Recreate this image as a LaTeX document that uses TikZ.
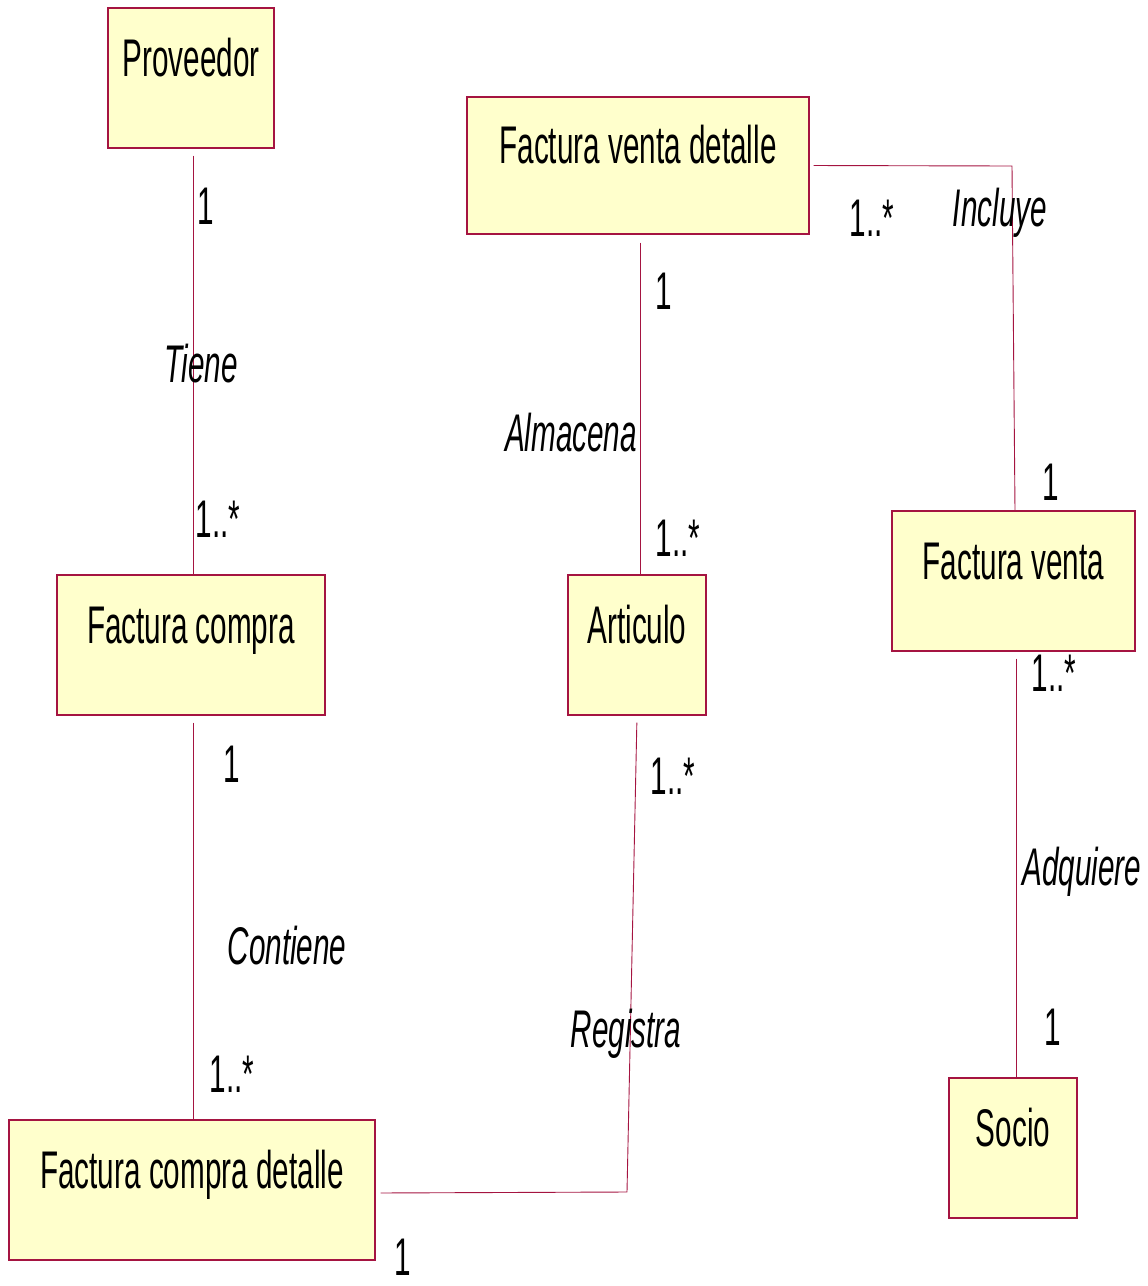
\documentclass[tikz,border=0pt]{standalone}
\usepackage{fontspec}
\setmainfont{Liberation Sans}[FakeStretch=0.56]
\definecolor{umlred}{RGB}{165,20,65}
\definecolor{umlfill}{RGB}{255,255,204}
\begin{document}
\begin{tikzpicture}[x=1pt,y=-1pt,
  cls/.style={draw=umlred, fill=umlfill, line width=1.1pt, minimum height=140pt,
    inner sep=0pt, text height=38pt, text depth=42pt,
    font=\fontsize{53}{60}\selectfont},
  assoc/.style={draw=umlred, line width=0.9pt},
  mult/.style={font=\fontsize{53}{60}\selectfont, inner sep=0pt, text height=38pt, text depth=0pt},
  role/.style={mult, font=\fontsize{53}{60}\selectfont\itshape}]
\useasboundingbox (0,0) rectangle (1148,1286);

% classes
\node[cls, minimum width=166pt] (prov) at (191,78) {Proveedor};
\node[cls, minimum width=342pt, minimum height=137pt] (fvd) at (638,165.5) {Factura venta detalle};
\node[cls, minimum width=268pt] (fc) at (191,645) {Factura compra};
\node[cls, minimum width=138pt] (art) at (637,645) {Articulo};
\node[cls, minimum width=243pt] (fv) at (1013.5,581) {Factura venta};
\node[cls, minimum width=366pt] (fcd) at (192,1190) {Factura compra detalle};
\node[cls, minimum width=128pt] (socio) at (1013,1148) {Socio};

% bends of the routed associations
\coordinate (regbend) at (627,1192);
\coordinate (incbend) at (1012,166);

% associations
\draw[assoc, shorten <=7pt] ([xshift=2pt]prov.south) -- ([xshift=2pt]fc.north);
\draw[assoc, shorten <=7pt] ([xshift=2pt]fc.south) -- ([xshift=1pt]fcd.north);
\draw[assoc, shorten <=8pt] ([xshift=2pt]fvd.south) -- ([xshift=3pt]art.north);
\draw[assoc, shorten <=7pt, shorten >=5pt] (art.south) -- (regbend) -- ([yshift=-3pt]fcd.east);
\draw[assoc, shorten <=4pt] (fvd.east) -- (incbend) -- ([xshift=1.5pt]fv.north);
\draw[assoc, shorten <=7pt] ([xshift=2.5pt]fv.south) -- ([xshift=3pt]socio.north);

% multiplicities
\node[mult] (m1) at (206,205) {1};
\node[mult] (m2) at (218,518) {1..*};
\node[mult] (m3) at (232,763) {1};
\node[mult] (m4) at (232,1073) {1..*};
\node[mult] (m5) at (403,1256) {1};
\node[mult] (m6) at (664,290) {1};
\node[mult] (m7) at (678,537) {1..*};
\node[mult] (m8) at (673,775) {1..*};
\node[mult] (m9) at (872,217) {1..*};
\node[mult] (m10) at (1051,481) {1};
\node[mult] (m11) at (1054,672) {1..*};
\node[mult] (m12) at (1053,1026) {1};

% association names
\node[role] (r1) at (201,363) {Tiene};
\node[role] (r2) at (287,945) {Contiene};
\node[role] (r3) at (571,432) {Almacena};
\node[role] (r4) at (626,1028) {Registra};
\node[role] (r5) at (1000,207) {Incluye};
\node[role] (r6) at (1082,866) {Adquiere};
\end{tikzpicture}
\end{document}
